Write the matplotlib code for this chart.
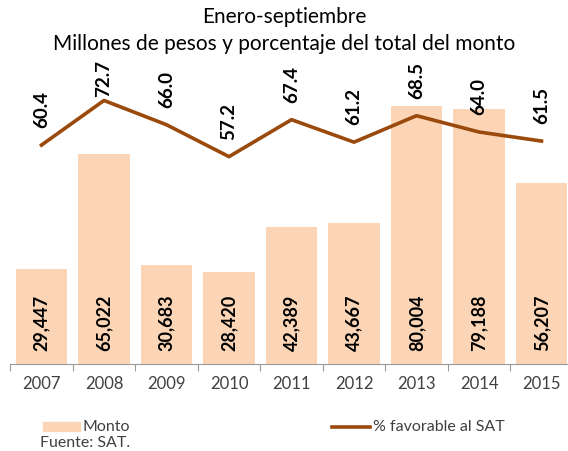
import matplotlib.pyplot as plt
import numpy as np

years = ['2007', '2008', '2009', '2010', '2011', '2012', '2013', '2014', '2015']
monto = [29447, 65022, 30683, 28420, 42389, 43667, 80004, 79188, 56207]
pct = [60.4, 72.7, 66.0, 57.2, 67.4, 61.2, 68.5, 64.0, 61.5]

plt.rcParams['font.family'] = ['Lato', 'DejaVu Sans']

bar_color = '#FBD5B5'
line_color = '#9A4A0C'

fig = plt.figure(figsize=(5.68, 4.52), dpi=100)
# axes runs a bit past the right edge, as in the original
ax = fig.add_axes([10.25 / 568, 87 / 452, 562.5 / 568, 290 / 452])
x = np.arange(len(years))

ax.bar(x, monto, width=0.82, color=bar_color, zorder=1)
ax.set_ylim(0, 90000)
ax.set_xlim(-0.5, len(years) - 0.5)
for xi, v in zip(x, monto):
    ax.text(xi, 4300, f'{v:,}', rotation=90, ha='center', va='bottom',
            fontsize=13, fontweight='bold', color='black')

ax2 = ax.twinx()
ax2.plot(x, pct, color=line_color, lw=2.6, zorder=3)
ax2.set_ylim(0, 80)
for xi, p in zip(x, pct):
    # labels sit above the points, kept below the title
    ax2.text(xi, min(p + 5, 74), f'{p:.1f}', rotation=90, ha='center', va='bottom',
             fontsize=13.5, fontweight='bold', color='black')

for a in (ax, ax2):
    for s in ('top', 'right', 'left'):
        a.spines[s].set_visible(False)
    a.set_yticks([])
ax.spines['bottom'].set_color('#999999')
ax2.spines['bottom'].set_visible(False)

ax.set_xticks(np.arange(len(years) + 1) - 0.5, minor=False)
ax.set_xticklabels([])
ax.tick_params(axis='x', length=5, color='#999999', direction='out')
for xi, y in zip(x, years):
    ax.text(xi, -3500, y, ha='center', va='top', fontsize=12,
            color='#404040', transform=ax.transData)

fig.text(0.5, 0.962, 'Enero-septiembre', ha='center', va='center', fontsize=15)
fig.text(0.5, 0.903, 'Millones de pesos y porcentaje del total del monto',
         ha='center', va='center', fontsize=15)

# legend drawn by hand
fig.patches.append(plt.Rectangle((43 / 568, 1 - 432 / 452), 37 / 568, 9 / 452,
                                 transform=fig.transFigure, color=bar_color))
fig.text(82 / 568, 1 - 427 / 452, 'Monto', fontsize=11.5, va='center', color='#404040')
fig.lines.append(plt.Line2D([332 / 568, 370 / 568], [1 - 428 / 452, 1 - 428 / 452],
                            transform=fig.transFigure, color=line_color, lw=2.6))
fig.text(373 / 568, 1 - 427 / 452, '% favorable al SAT', fontsize=11.5, va='center',
         color='#404040')
fig.text(40 / 568, 1 - 443 / 452, 'Fuente: SAT.', fontsize=11.5, va='center',
         color='#404040')

fig.savefig('out.png', dpi=100)
